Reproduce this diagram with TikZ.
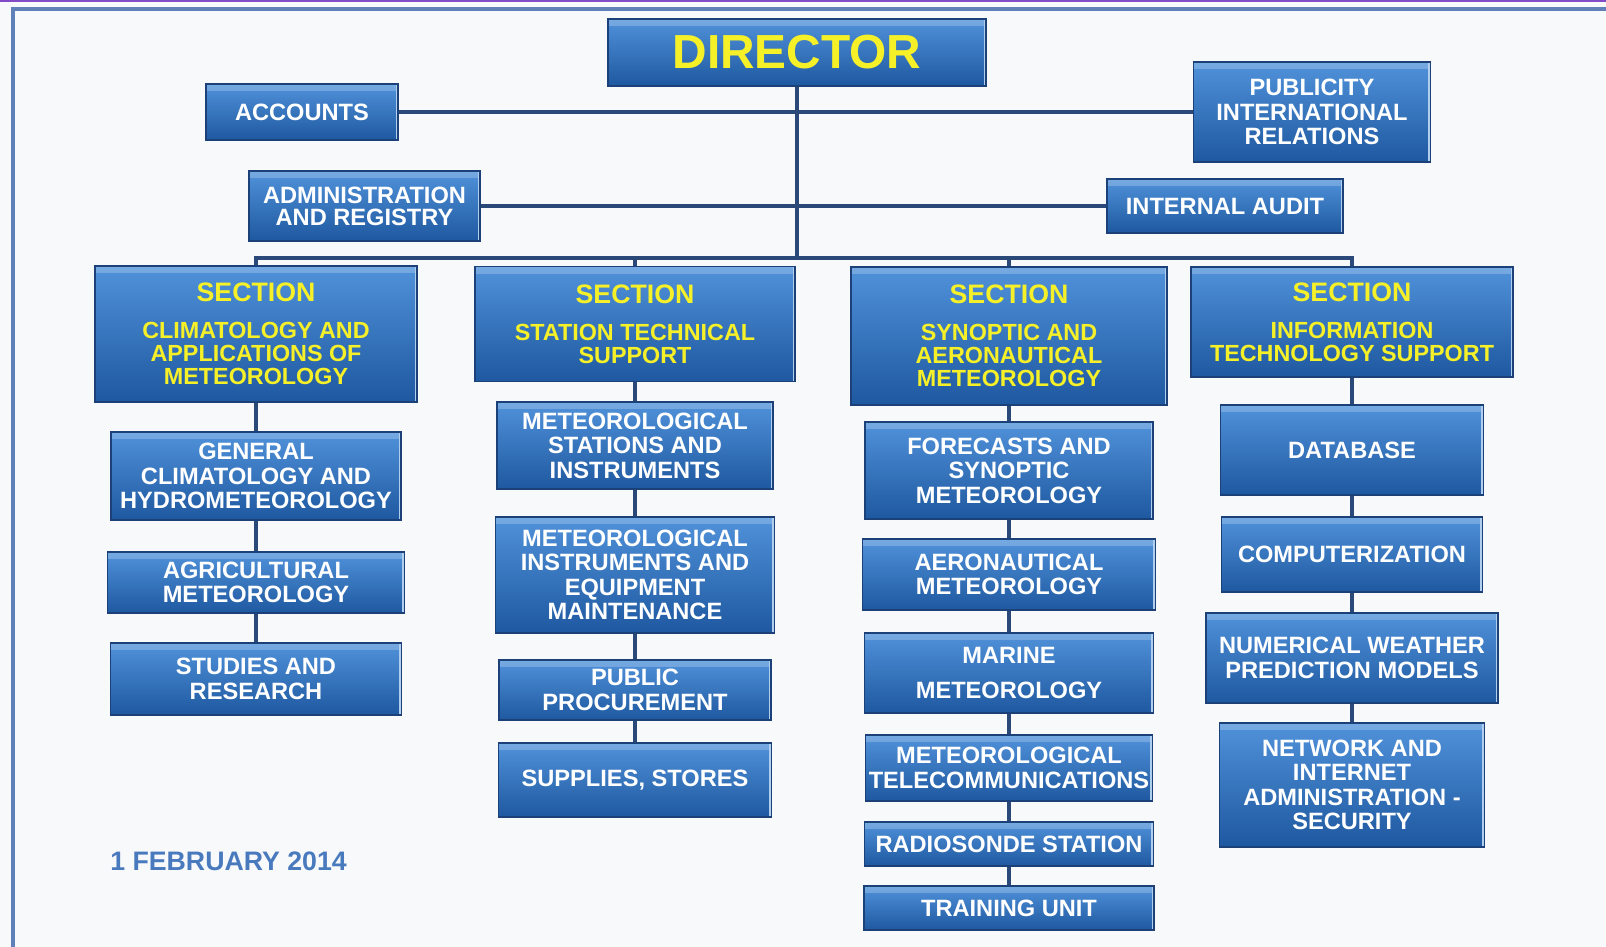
\documentclass[tikz,border=0pt]{standalone}
\usepackage{fontspec}
\setmainfont{Liberation Sans}
\usetikzlibrary{positioning}
\definecolor{boxtop}{RGB}{80,146,218}
\definecolor{boxbot}{RGB}{30,88,160}
\definecolor{boxline}{RGB}{28,64,120}
\definecolor{linkcol}{RGB}{42,72,120}
\definecolor{titleyellow}{RGB}{246,240,40}
\definecolor{framecol}{RGB}{96,128,186}
\definecolor{datecol}{RGB}{74,122,190}
\definecolor{paper}{RGB}{248,249,251}
\tikzset{
  unitbox/.style={draw=boxline, line width=0.8pt, top color=boxtop, bottom color=boxbot,
    text=white, align=center, inner sep=0pt, font=\bfseries\fontsize{16.8}{17.4}\selectfont,
    path picture={
      \fill[white, opacity=0.22] (path picture bounding box.north west) rectangle ([yshift=-5pt]path picture bounding box.north east);
      \draw[white!55!boxtop, line width=3pt] (path picture bounding box.north east) -- (path picture bounding box.south east);
    }},
  secbox/.style={unitbox, text=titleyellow, font=\bfseries\fontsize{16.6}{16.4}\selectfont},
  link/.style={draw=linkcol, line width=3pt},
}
\begin{document}
\begin{tikzpicture}[x=0.025cm, y=-0.025cm]
\useasboundingbox (0,0) rectangle (1606,947);
\fill[paper] (0,0) rectangle (1606,947);
\draw[framecol, line width=2.5pt] (13,947) -- (13,9) -- (1606,9);
\draw[violet!60!blue!70, line width=1pt] (0,1) -- (1606,1);

% top level
\node[unitbox, text=titleyellow, font=\bfseries\fontsize{34}{34}\selectfont, minimum width=9.45cm, minimum height=1.675cm] (director) at (797,52.5) {DIRECTOR};
\node[unitbox, minimum width=4.8cm, minimum height=1.4cm] (accounts) at (302,112) {ACCOUNTS};
\node[unitbox, minimum width=5.925cm, minimum height=2.5cm] (publicity) at (1312,112) {PUBLICITY\\INTERNATIONAL\\RELATIONS};
\node[unitbox, minimum width=5.775cm, minimum height=1.75cm, font=\bfseries\fontsize{16.8}{15.6}\selectfont] (admin) at (364.5,206) {ADMINISTRATION\\AND REGISTRY};
\node[unitbox, minimum width=5.9cm, minimum height=1.35cm] (audit) at (1225,206) {INTERNAL AUDIT};
\coordinate (bus) at (797,258);

% sections
\node[secbox, minimum width=8.05cm, minimum height=3.4cm] (climsec) at (256,334) {{\fontsize{19}{19}\selectfont SECTION}\\[10pt]CLIMATOLOGY AND\\APPLICATIONS OF\\METEOROLOGY};
\node[secbox, minimum width=8cm, minimum height=2.875cm] (techsec) at (635,324) {{\fontsize{19}{19}\selectfont SECTION}\\[10pt]STATION TECHNICAL\\SUPPORT};
\node[secbox, minimum width=7.9cm, minimum height=3.45cm] (synsec) at (1009,336) {{\fontsize{19}{19}\selectfont SECTION}\\[10pt]SYNOPTIC AND\\AERONAUTICAL\\METEOROLOGY};
\node[secbox, minimum width=8.05cm, minimum height=2.75cm] (itsec) at (1352,322) {{\fontsize{19}{19}\selectfont SECTION}\\[10pt]INFORMATION\\TECHNOLOGY SUPPORT};

% climatology column
\node[unitbox, minimum width=7.25cm, minimum height=2.2cm] (gencl) at (256,476) {GENERAL\\CLIMATOLOGY AND\\HYDROMETEOROLOGY};
\node[unitbox, minimum width=7.425cm, minimum height=1.525cm] (agri) at (256,582.5) {AGRICULTURAL\\METEOROLOGY};
\node[unitbox, minimum width=7.275cm, minimum height=1.8cm] (studies) at (256,679) {STUDIES AND\\RESEARCH};

% technical column
\node[unitbox, minimum width=6.9cm, minimum height=2.175cm] (stations) at (635,445.5) {METEOROLOGICAL\\STATIONS AND\\INSTRUMENTS};
\node[unitbox, minimum width=6.975cm, minimum height=2.9cm] (instr) at (635,575) {METEOROLOGICAL\\INSTRUMENTS AND\\EQUIPMENT\\MAINTENANCE};
\node[unitbox, minimum width=6.8cm, minimum height=1.5cm] (procure) at (635,690) {PUBLIC\\PROCUREMENT};
\node[unitbox, minimum width=6.825cm, minimum height=1.85cm] (supplies) at (635,780) {SUPPLIES, STORES};

% synoptic column
\node[unitbox, minimum width=7.2cm, minimum height=2.425cm] (forecast) at (1009,470.5) {FORECASTS AND\\SYNOPTIC\\METEOROLOGY};
\node[unitbox, minimum width=7.325cm, minimum height=1.775cm] (aero) at (1009,574.5) {AERONAUTICAL\\METEOROLOGY};
\node[unitbox, minimum width=7.225cm, minimum height=2cm] (marine) at (1009,673) {MARINE\\[7pt]METEOROLOGY};
\node[unitbox, minimum width=7.175cm, minimum height=1.65cm] (telecom) at (1009,768) {METEOROLOGICAL\\TELECOMMUNICATIONS};
\node[unitbox, minimum width=7.225cm, minimum height=1.1cm] (radio) at (1009,844) {RADIOSONDE STATION};
\node[unitbox, minimum width=7.25cm, minimum height=1.1cm] (training) at (1009,908) {TRAINING UNIT};

% it column
\node[unitbox, minimum width=6.575cm, minimum height=2.25cm] (database) at (1352,450) {DATABASE};
\node[unitbox, minimum width=6.525cm, minimum height=1.875cm] (computer) at (1352,554.5) {COMPUTERIZATION};
\node[unitbox, minimum width=7.3cm, minimum height=2.25cm] (nwp) at (1352,658) {NUMERICAL WEATHER\\PREDICTION MODELS};
\node[unitbox, minimum width=6.625cm, minimum height=3.1cm] (network) at (1352,785) {NETWORK AND\\INTERNET\\ADMINISTRATION -\\SECURITY};

\node[text=datecol, font=\bfseries\fontsize{19}{19}\selectfont, inner sep=0pt, anchor=west] (date) at (110,861) {1 FEBRUARY 2014};

% links
\draw[link] (director) -- (bus);
\draw[link] (accounts) -- (publicity);
\draw[link] (admin) -- (audit);
\draw[link] (bus) -| (climsec.north);
\draw[link] (bus) -| (techsec.north);
\draw[link] (bus) -| (synsec.north);
\draw[link] (bus) -| (itsec.north);

\draw[link] (climsec) -- (gencl);
\draw[link] (gencl) -- (agri);
\draw[link] (agri) -- (studies);

\draw[link] (techsec) -- (stations);
\draw[link] (stations) -- (instr);
\draw[link] (instr) -- (procure);
\draw[link] (procure) -- (supplies);

\draw[link] (synsec) -- (forecast);
\draw[link] (forecast) -- (aero);
\draw[link] (aero) -- (marine);
\draw[link] (marine) -- (telecom);
\draw[link] (telecom) -- (radio);
\draw[link] (radio) -- (training);

\draw[link] (itsec) -- (database);
\draw[link] (database) -- (computer);
\draw[link] (computer) -- (nwp);
\draw[link] (nwp) -- (network);
\end{tikzpicture}
\end{document}
